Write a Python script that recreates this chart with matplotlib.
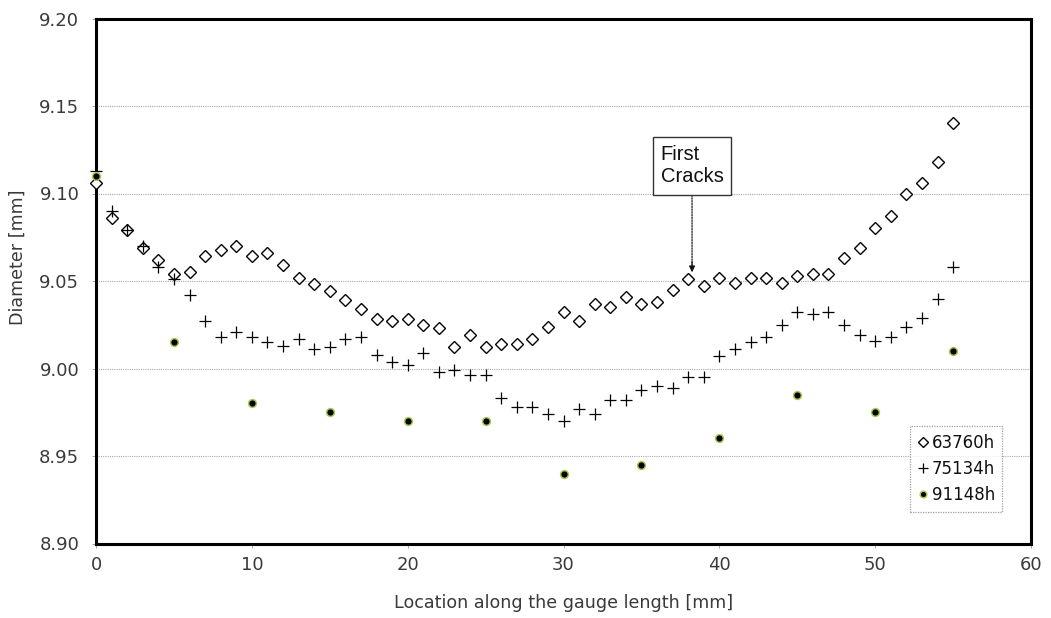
import numpy as np
import matplotlib
matplotlib.use("Agg")
import matplotlib.pyplot as plt

# Diameter profiles along the gauge length at three exposure times
loc_63760 = list(range(0, 56))
dia_63760 = [9.106, 9.086, 9.079, 9.069, 9.062, 9.054, 9.055, 9.064, 9.068, 9.070,
             9.064, 9.066, 9.059, 9.052, 9.048, 9.044, 9.039, 9.034, 9.028, 9.027,
             9.028, 9.025, 9.023, 9.012, 9.019, 9.012, 9.014, 9.014, 9.017, 9.024,
             9.032, 9.027, 9.037, 9.035, 9.041, 9.037, 9.038, 9.045, 9.051, 9.047,
             9.052, 9.049, 9.052, 9.052, 9.049, 9.053, 9.054, 9.054, 9.063, 9.069,
             9.080, 9.087, 9.100, 9.106, 9.118, 9.140]

loc_75134 = list(range(0, 56))
dia_75134 = [9.113, 9.090, 9.079, 9.070, 9.058, 9.051, 9.042, 9.027, 9.018, 9.021,
             9.018, 9.015, 9.013, 9.017, 9.011, 9.012, 9.017, 9.018, 9.008, 9.004,
             9.002, 9.009, 8.998, 8.999, 8.996, 8.996, 8.983, 8.978, 8.978, 8.974,
             8.970, 8.977, 8.974, 8.982, 8.982, 8.988, 8.990, 8.989, 8.995, 8.995,
             9.007, 9.011, 9.015, 9.018, 9.025, 9.032, 9.031, 9.032, 9.025, 9.019,
             9.016, 9.018, 9.024, 9.029, 9.040, 9.058]

loc_91148 = [0, 5, 10, 15, 20, 25, 30, 35, 40, 45, 50, 55]
dia_91148 = [9.110, 9.015, 8.980, 8.975, 8.970, 8.970, 8.940, 8.945, 8.960, 8.985,
             8.975, 9.010]

labels = ["63760h", "75134h", "91148h"]
x_ticks = [0, 10, 20, 30, 40, 50, 60]
y_ticks = [8.90, 8.95, 9.00, 9.05, 9.10, 9.15, 9.20]

crack_location = 38.25
crack_diameter = 9.055

W, H = 1051, 618
fig = plt.figure(figsize=(W / 100, H / 100), dpi=100)
ax_l, ax_r, ax_t, ax_b = 96, 1031, 18.5, 543.5
ax = fig.add_axes([ax_l / W, 1 - ax_b / H, (ax_r - ax_l) / W, (ax_b - ax_t) / H])

txt_color = "#3a3a3a"

ax.plot(loc_63760, dia_63760, linestyle="none", marker="D", markersize=6.0,
        markerfacecolor="white", markeredgecolor="black", markeredgewidth=1.0,
        label=labels[0], zorder=3, clip_on=False)
ax.plot(loc_75134, dia_75134, linestyle="none", marker="+", markersize=8.5,
        markeredgecolor="black", markeredgewidth=0.9, label=labels[1], zorder=4,
        clip_on=False)
ax.plot(loc_91148, dia_91148, linestyle="none", marker="o", markersize=5.6,
        markerfacecolor="black", markeredgecolor="#a8c850", markeredgewidth=1.1,
        label=labels[2], zorder=5, clip_on=False)

ax.set_xlim(0, 60)
ax.set_ylim(8.90, 9.20)
ax.set_xticks(x_ticks)
ax.set_yticks(y_ticks)
ax.set_xticklabels([str(v) for v in x_ticks])
ax.set_yticklabels([f"{v:.2f}" for v in y_ticks])

ax.yaxis.grid(True, color="#aaaaaa", linestyle=(0, (1, 1)), linewidth=0.8)
ax.xaxis.grid(False)
ax.set_axisbelow(True)

for side in ax.spines.values():
    side.set_linewidth(2.2)
    side.set_color("black")

ax.tick_params(axis="both", direction="out", length=3, width=0.6, color="#999999",
               labelcolor=txt_color, labelsize=13)
ax.tick_params(axis="x", pad=6)
ax.tick_params(axis="y", pad=9)
for t in ax.get_xticklabels() + ax.get_yticklabels():
    t.set_fontfamily("DejaVu Sans")

ax.set_xlabel("Location along the gauge length [mm]", fontsize=12.6,
              color=txt_color, family="DejaVu Sans")
ax.xaxis.set_label_coords(0.5, -(603 - ax_b) / (ax_b - ax_t))
ax.xaxis.label.set_va("center")

ax.set_ylabel("Diameter [mm]", fontsize=12.6, color=txt_color, family="DejaVu Sans")
ax.yaxis.set_label_coords((18 - ax_l) / (ax_r - ax_l), (ax_b - 257) / (ax_b - ax_t))
ax.yaxis.label.set_va("center")

leg = ax.legend(loc="upper left",
                bbox_to_anchor=(910 / W, 1 - 426 / H),
                bbox_transform=fig.transFigure,
                borderaxespad=0, handlelength=0.6,
                handletextpad=0.25, borderpad=0.45, labelspacing=0.5,
                frameon=True, fancybox=False, prop={"family": "DejaVu Sans", "size": 12})
leg.get_frame().set_edgecolor("#888888")
leg.get_frame().set_linestyle((0, (1, 1)))
leg.get_frame().set_linewidth(0.9)
for t in leg.get_texts():
    t.set_color("#111111")
for h in leg.legend_handles:
    h.set_markersize(h.get_markersize() * 0.85)

# Annotation box with a dotted leader and a solid arrowhead
box_cx, box_cy = 692, H - 166
ax.annotate("First\nCracks", xy=(crack_location, crack_diameter + 0.003),
            xytext=(box_cx, box_cy), textcoords="figure pixels",
            ha="center", va="center", multialignment="left",
            fontsize=14.5, family="Liberation Sans", color="#111111",
            bbox=dict(boxstyle="square,pad=0.4", facecolor="white",
                      edgecolor="#333333", linewidth=1.0),
            arrowprops=dict(arrowstyle="-", color="#333333",
                            linestyle=(0, (1, 1)), linewidth=1.0,
                            shrinkA=0, shrinkB=0),
            zorder=6)
ax.annotate("", xy=(crack_location, crack_diameter),
            xytext=(crack_location, crack_diameter + 0.006),
            arrowprops=dict(arrowstyle="-|>", color="#111111", linewidth=0.8,
                            mutation_scale=9, shrinkA=0, shrinkB=0),
            zorder=6)

fig.savefig("out.png", dpi=100)
